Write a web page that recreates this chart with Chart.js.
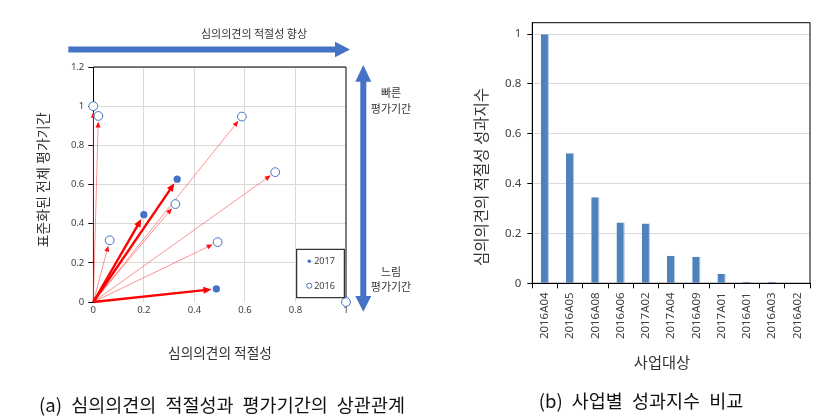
<!DOCTYPE html>
<html><head><meta charset="utf-8">
<script src="https://cdn.jsdelivr.net/npm/chart.js"></script>
<style>
html,body{margin:0;padding:0;background:#fff;width:836px;height:420px;overflow:hidden;}
#wrap{position:relative;width:836px;height:420px;background:#fff;}
canvas{position:absolute;top:0;}
#ca{left:0;width:440px;height:420px;}
#cb{left:440px;width:396px;height:420px;}
.t{position:absolute;white-space:nowrap;font-family:'Noto Sans CJK KR',sans-serif;color:#333;transform:translate(-50%,-50%);line-height:1;}
.r{transform:translate(-50%,-50%) rotate(-90deg);}
.cap{color:#111;word-spacing:5px;}
svg{position:absolute;left:0;top:0;}
</style></head>
<body><div id="wrap">
<canvas id="ca" width="440" height="420"></canvas>
<canvas id="cb" width="396" height="420"></canvas>
<svg width="836" height="420">
  <g fill="#4472C4">
    <rect x="68.3" y="46.5" width="268" height="6"/>
    <polygon points="335,41.7 350,49.5 335,57.2"/>
    <rect x="360.3" y="81" width="6" height="216"/>
    <polygon points="355.3,81.7 363.3,65 371.3,81.7"/>
    <polygon points="355.3,296 363.3,311.7 371.3,296"/>
  </g>
</svg>
<div class="t" style="left:254px;top:33px;font-size:11px">심의의견의 적절성 향상</div>
<div class="t" style="left:391px;top:92px;font-size:11px">빠른</div>
<div class="t" style="left:391px;top:108px;font-size:11px">평가기간</div>
<div class="t" style="left:391px;top:271px;font-size:11px">느림</div>
<div class="t" style="left:391px;top:286px;font-size:11px">평가기간</div>
<div class="t r" style="left:42px;top:180px;font-size:14px">표준화된 전체 평가기간</div>
<div class="t" style="left:220px;top:353px;font-size:13.7px">심의의견의 적절성</div>
<div class="t cap" style="left:222px;top:404px;font-size:18.5px">(a) 심의의견의 적절성과 평가기간의 상관관계</div>
<div class="t r" style="left:481px;top:177px;font-size:15.5px">심의의견의 적절성 성과지수</div>
<div class="t" style="left:662px;top:362px;font-size:15.3px">사업대상</div>
<div class="t cap" style="left:641px;top:400px;font-size:18.5px">(b) 사업별 성과지수 비교</div>
</div>
<script>
// ---- chart (a) data ----
const xTicksA = [0, 0.2, 0.4, 0.6, 0.8, 1];
const xTickLabelsA = ['0', '0.2', '0.4', '0.6', '0.8', '1'];
const yTicksA = [0, 0.2, 0.4, 0.6, 0.8, 1, 1.2];
const yTickLabelsA = ['0', '0.2', '0.4', '0.6', '0.8', '1', '1.2'];
const x2016 = [0, 0.02, 0.065, 0.588, 0.72, 0.325, 0.492, 1];
const y2016 = [1.0, 0.95, 0.315, 0.947, 0.663, 0.5, 0.306, 0];
const arrow2016 = [1, 1, 1, 1, 1, 1, 1, 0];
const x2017 = [0.2, 0.332, 0.487];
const y2017 = [0.446, 0.627, 0.067];
const seriesNamesA = ['2017', '2016'];

// ---- chart (b) data ----
const categoriesB = ['2016A04','2016A05','2016A08','2016A06','2017A02','2017A04','2016A09','2017A01','2016A01','2016A03','2016A02'];
const valuesB = [1.0, 0.522, 0.345, 0.244, 0.24, 0.111, 0.107, 0.038, 0.006, 0.006, 0];
const yTicksB = [0, 0.2, 0.4, 0.6, 0.8, 1];
const yTickLabelsB = ['0', '0.2', '0.4', '0.6', '0.8', '1'];

const BLUE = '#4472C4';
const tickFont = {family: "'Noto Sans', sans-serif", size: 9.5};

function drawArrow(ctx, x0, y0, x1, y1, gap, lw, lineColor, headColor, hl, hw) {
  const dx = x1 - x0, dy = y1 - y0, len = Math.hypot(dx, dy);
  if (len < 1) return;
  const ux = dx / len, uy = dy / len;
  const tx = x1 - ux * gap, ty = y1 - uy * gap;
  const bx = tx - ux * hl, by = ty - uy * hl;
  ctx.save();
  ctx.strokeStyle = lineColor; ctx.lineWidth = lw;
  ctx.beginPath(); ctx.moveTo(x0, y0); ctx.lineTo(bx + ux, by + uy); ctx.stroke();
  ctx.fillStyle = headColor;
  ctx.beginPath();
  ctx.moveTo(tx, ty);
  ctx.lineTo(bx - uy * hw / 2, by + ux * hw / 2);
  ctx.lineTo(bx + uy * hw / 2, by - ux * hw / 2);
  ctx.closePath(); ctx.fill();
  ctx.restore();
}

const arrowsPlugin = {
  id: 'arrows',
  beforeDatasetsDraw(chart) {
    const ctx = chart.ctx, xs = chart.scales.x, ys = chart.scales.y;
    const ca = chart.chartArea;
    ctx.save();
    ctx.strokeStyle = '#000'; ctx.lineWidth = 1;
    ctx.beginPath();
    ctx.moveTo(ca.left, ca.top); ctx.lineTo(ca.right, ca.top); ctx.lineTo(ca.right, ca.bottom - 4);
    ctx.stroke();
    ctx.restore();
    const ox = xs.getPixelForValue(0), oy = ys.getPixelForValue(0);
    x2016.forEach((v, i) => {
      if (!arrow2016[i]) return;
      drawArrow(ctx, ox, oy, xs.getPixelForValue(v), ys.getPixelForValue(y2016[i]), 5.5, 0.8, 'rgba(255,60,60,0.7)', '#ff1010', 6, 5);
    });
    x2017.forEach((v, i) => {
      drawArrow(ctx, ox, oy, xs.getPixelForValue(v), ys.getPixelForValue(y2017[i]), 5, 2.4, '#ff0000', '#ff0000', 8, 7);
    });
  },
  afterDraw(chart) {
    const ctx = chart.ctx, ca = chart.chartArea;
    const r = ca.right - 1.7, b = ca.bottom - 4.3, w = 47.6, h = 48.4;
    const l = r - w, t = b - h;
    ctx.save();
    ctx.fillStyle = '#fff'; ctx.fillRect(l, t, w, h);
    ctx.strokeStyle = '#000'; ctx.lineWidth = 1; ctx.strokeRect(l, t, w, h);
    ctx.fillStyle = BLUE;
    ctx.beginPath(); ctx.arc(l + 12.6, t + 12, 1.8, 0, Math.PI * 2); ctx.fill();
    ctx.strokeStyle = BLUE; ctx.fillStyle = '#fff';
    ctx.beginPath(); ctx.arc(l + 12.6, t + 36.4, 2.6, 0, Math.PI * 2); ctx.fill(); ctx.stroke();
    ctx.fillStyle = '#404040';
    ctx.font = "9px 'Noto Sans', sans-serif";
    ctx.textBaseline = 'middle'; ctx.textAlign = 'left';
    ctx.fillText(seriesNamesA[0], l + 17.5, t + 12.5);
    ctx.fillText(seriesNamesA[1], l + 17.5, t + 36.9);
    ctx.restore();
  }
};

new Chart(document.getElementById('ca'), {
  type: 'scatter',
  data: {
    datasets: [
      {label: seriesNamesA[0], data: x2017.map((v, i) => ({x: v, y: y2017[i]})),
       pointRadius: 3.6, pointBackgroundColor: BLUE, pointBorderColor: BLUE, pointBorderWidth: 0, clip: false},
      {label: seriesNamesA[1], data: x2016.map((v, i) => ({x: v, y: y2016[i]})),
       pointRadius: 4.4, pointBackgroundColor: '#fff', pointBorderColor: BLUE, pointBorderWidth: 1, clip: false}
    ]
  },
  options: {
    responsive: false, animation: false, devicePixelRatio: 1,
    layout: {padding: {left: 0, top: 67, right: 94, bottom: 0}},
    plugins: {legend: {display: false}, tooltip: {enabled: false}},
    scales: {
      x: {
        type: 'linear', min: 0, max: 1,
        afterBuildTicks: s => { s.ticks = xTicksA.map(v => ({value: v})); },
        afterFit: s => { s.height = 118; s.paddingLeft = 0; s.paddingRight = 0; },
        grid: {color: c => (c.tick && (c.tick.value === 0 || c.tick.value === 1)) ? 'rgba(0,0,0,0)' : '#d9d9d9', drawTicks: false, lineWidth: 1},
        border: {display: false},
        ticks: {padding: 3, font: tickFont, color: '#404040', autoSkip: false, maxRotation: 0,
                callback: (v, i) => xTickLabelsA[i]}
      },
      y: {
        type: 'linear', min: 0, max: 1.2,
        afterBuildTicks: s => { s.ticks = yTicksA.map(v => ({value: v})); },
        afterFit: s => { s.width = 93.3; s.paddingTop = 0; s.paddingBottom = 0; },
        grid: {color: c => (c.tick && c.tick.value === 0) ? 'rgba(0,0,0,0)' : '#d9d9d9', tickColor: '#000', tickLength: 5, lineWidth: 1},
        border: {color: '#000', width: 1},
        ticks: {padding: 4, font: tickFont, color: '#404040', autoSkip: false,
                callback: (v, i) => yTickLabelsA[i]}
      }
    }
  },
  plugins: [arrowsPlugin]
});

const framePlugin = {
  id: 'frame',
  afterDraw(chart) {
    const ctx = chart.ctx, ca = chart.chartArea;
    ctx.save();
    ctx.strokeStyle = '#000'; ctx.lineWidth = 1;
    ctx.strokeRect(ca.left, ca.top, ca.right - ca.left, ca.bottom - ca.top);
    ctx.restore();
  }
};

new Chart(document.getElementById('cb'), {
  type: 'bar',
  data: {
    labels: categoriesB,
    datasets: [{data: valuesB, backgroundColor: '#4F81BD', borderColor: '#b7cbe8',
                borderWidth: {left: 0, right: 1.2, top: 0, bottom: 0}, borderSkipped: false,
                barPercentage: 0.33, categoryPercentage: 1}]
  },
  options: {
    responsive: false, animation: false, devicePixelRatio: 1,
    layout: {padding: {left: 0, top: 22.7, right: 26, bottom: 0}},
    plugins: {legend: {display: false}, tooltip: {enabled: false}},
    scales: {
      x: {
        afterFit: s => { s.height = 136.7; s.paddingLeft = 0; s.paddingRight = 0; },
        grid: {drawOnChartArea: false, drawTicks: true, tickLength: 5, tickColor: '#000', offset: true},
        border: {color: '#000', width: 1},
        ticks: {padding: 4, minRotation: 90, maxRotation: 90, autoSkip: false,
                font: {family: "'Noto Sans', sans-serif", size: 11.5}, color: '#404040'}
      },
      y: {
        min: 0, max: 1.046,
        afterBuildTicks: s => { s.ticks = yTicksB.map(v => ({value: v})); },
        afterFit: s => { s.width = 92.3; s.paddingTop = 0; s.paddingBottom = 0; },
        grid: {color: '#d9d9d9', tickColor: '#000', tickLength: 5},
        border: {color: '#000', width: 1},
        ticks: {padding: 6, font: {family: "'Noto Sans', sans-serif", size: 11.5}, color: '#404040',
                callback: (v, i) => yTickLabelsB[i]}
      }
    }
  },
  plugins: [framePlugin]
});
</script>
</body></html>
